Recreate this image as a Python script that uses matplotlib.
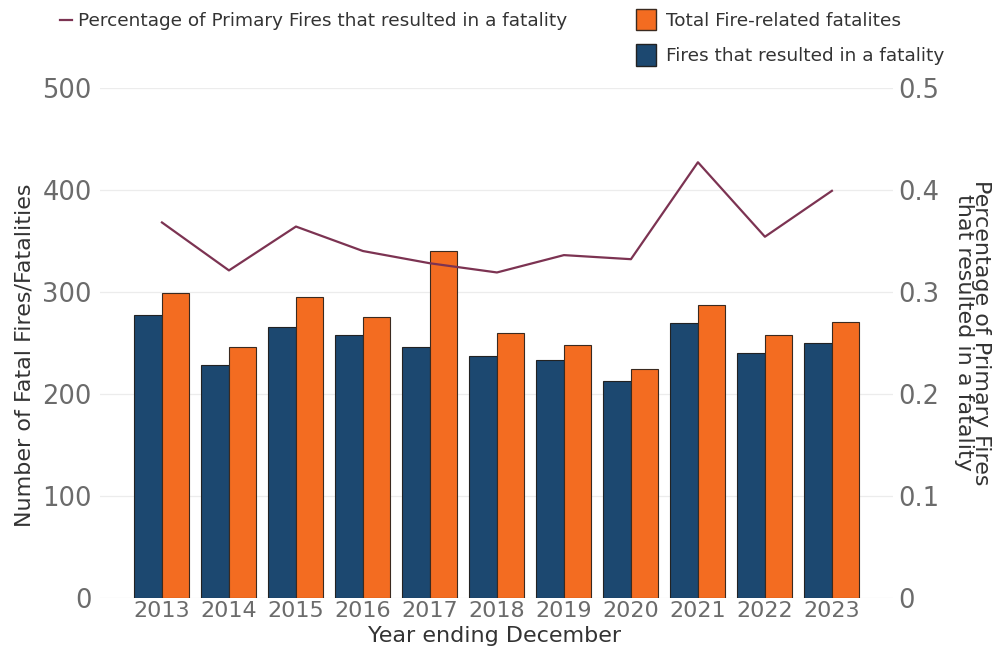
"""Fatal fires and fire-related fatalities, year ending December."""

import matplotlib

matplotlib.use("Agg")
import matplotlib.pyplot as plt
import numpy as np
from matplotlib.lines import Line2D
from matplotlib.patches import Patch

YEARS = ["2013", "2014", "2015", "2016", "2017", "2018", "2019", "2020", "2021", "2022", "2023"]
FATAL_FIRES = [277, 228, 266, 258, 246, 237, 233, 213, 269, 240, 250]
FATALITIES = [299, 246, 295, 275, 340, 260, 248, 224, 287, 258, 270]
PCT_FATAL = [0.368, 0.321, 0.364, 0.340, 0.328, 0.319, 0.336, 0.332, 0.427, 0.354, 0.399]

BLUE = "#1c4870"
ORANGE = "#f36c21"
LINE = "#7c3352"
TICK_GREY = "#6b6b6b"
LABEL_GREY = "#333333"


def main() -> None:
    plt.rcParams.update({"font.family": ["DejaVu Sans"]})
    fig = plt.figure(figsize=(9.94, 6.5), dpi=100)
    ax = fig.add_axes([0.1006, 0.08, 0.798, 0.785])
    ax2 = ax.twinx()

    x = np.arange(len(YEARS))
    w = 0.41
    ax.bar(x - w / 2, FATAL_FIRES, width=w, color=BLUE, edgecolor="#222222", linewidth=0.8, zorder=3)
    ax.bar(x + w / 2, FATALITIES, width=w, color=ORANGE, edgecolor="#3a2a20", linewidth=0.8, zorder=3)
    ax2.plot(x, PCT_FATAL, color=LINE, lw=1.6, zorder=4)

    ax.set_ylim(0, 500)
    ax2.set_ylim(0, 0.5)
    ax.set_xlim(-0.925, 10.915)
    ax.set_yticks(np.arange(0, 501, 100))
    ax2.set_yticks(np.arange(0, 0.51, 0.1), ["0", "0.1", "0.2", "0.3", "0.4", "0.5"])
    ax.set_xticks(x, YEARS)
    ax.yaxis.grid(True, color="#ececec", lw=0.9, zorder=0)
    ax.set_axisbelow(True)

    for a in (ax, ax2):
        for s in a.spines.values():
            s.set_visible(False)
    ax.tick_params(axis="y", length=0, pad=6, labelsize=18.5, labelcolor=TICK_GREY)
    ax2.tick_params(axis="y", length=0, pad=3.5, labelsize=18.5, labelcolor=TICK_GREY)
    ax.tick_params(axis="x", length=0, pad=2, labelsize=16, labelcolor=TICK_GREY)

    ax.set_xlabel("Year ending December", fontsize=16, color=LABEL_GREY, va="center")
    ax.xaxis.set_label_coords(0.498, -0.075)
    ax.set_ylabel("Number of Fatal Fires/Fatalities", fontsize=16, color=LABEL_GREY, va="center")
    ax.yaxis.set_label_coords(-0.095, 0.475)
    ax2.set_ylabel("Percentage of Primary Fires\nthat resulted in a fatality", fontsize=16,
                   color=LABEL_GREY, rotation=270, linespacing=0.85, va="center")
    ax2.yaxis.set_label_coords(1.1, 0.52)

    line_h = [Line2D([0], [0], color=LINE, lw=1.6)]
    fig.legend(line_h, ["Percentage of Primary Fires that resulted in a fatality"],
               loc="upper left", bbox_to_anchor=(60 / 994, 1 - 12 / 650), frameon=False, fontsize=13.3,
               borderpad=0, borderaxespad=0, handlelength=0.65, handletextpad=0.35,
               labelcolor=LABEL_GREY)
    bar_h = [Patch(facecolor=ORANGE, edgecolor="#3a2a20"), Patch(facecolor=BLUE, edgecolor="#222222")]
    fig.legend(bar_h, ["Total Fire-related fatalites", "Fires that resulted in a fatality"],
               loc="upper left", bbox_to_anchor=(636 / 994, 1 - 9 / 650), frameon=False, fontsize=13.3,
               borderpad=0, borderaxespad=0, handlelength=1.1, handleheight=1.4,
               handletextpad=0.5, labelspacing=0.75, labelcolor=LABEL_GREY)

    fig.savefig("out.png", dpi=100)
    plt.close(fig)


if __name__ == "__main__":
    main()
